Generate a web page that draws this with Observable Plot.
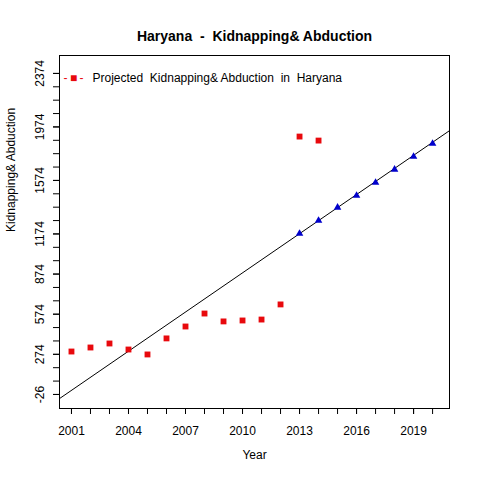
<!DOCTYPE html>
<html><head>
<script src="https://cdn.jsdelivr.net/npm/d3@7"></script>
<script src="https://cdn.jsdelivr.net/npm/@observablehq/plot@0.6"></script>
<style>body{margin:0;background:#fff;font-family:"Liberation Sans",Arial,sans-serif}</style>
</head><body><div id="chart"></div>
<script>
const actualYears = [2001,2002,2003,2004,2005,2006,2007,2008,2009,2010,2011,2012,2013,2014];
const actualValues = [295,325,355,310,273,393,482,579,520,527,534,647,1902,1872];
const projYears = [2013,2014,2015,2016,2017,2018,2019,2020];
const projValues = [1177,1274,1372,1461,1558,1656,1753,1850];
const lineYears = [2000.37,2020.89];
const lineValues = [-57,1946];
const yLabels = [-26,274,574,874,1174,1574,1974,2374];
const yTicks = d3.range(-26,2400,100);
const xTicks = d3.range(2001,2021);
const xLabels = [2001,2004,2007,2010,2013,2016,2019];

const actual = actualYears.map((y,i)=>({year:y,v:actualValues[i]}));
const proj = projYears.map((y,i)=>({year:y,v:projValues[i]}));
const line = lineYears.map((y,i)=>({year:y,v:lineValues[i]}));

const chart = Plot.plot({
  width:480,height:480,marginLeft:59,marginRight:31,marginTop:55,marginBottom:72,
  style:{fontFamily:"Liberation Sans, Arial, sans-serif",fontSize:"12px",color:"#000",background:"#fff"},
  x:{domain:[2000.37,2020.89]},
  y:{domain:[-131,2508]},
  marks:[
    Plot.frame({stroke:"#000"}),
    Plot.line(line,{x:"year",y:"v",stroke:"#000",strokeWidth:1,clip:true}),
    Plot.dot(actual,{x:"year",y:"v",symbol:"square",r:3.3,fill:"#e8090d"}),
    Plot.dot(proj,{x:"year",y:"v",symbol:"triangle",r:2.8,fill:"#0000cc"}),
    Plot.axisX({ticks:xTicks,tickFormat:()=>"",tickSize:6,tickPadding:0,label:null}),
    Plot.axisX({ticks:xLabels,tickFormat:d=>String(d),tickSize:6,tickPadding:12,fontSize:12,label:null}),
    Plot.axisY({ticks:yTicks,tickFormat:()=>"",tickSize:6,label:null}),
    Plot.axisY({ticks:yLabels,tickFormat:d=>String(d),tickSize:6,tickPadding:10,tickRotate:-90,fontSize:12,label:null}),
    Plot.text(["Year"],{frameAnchor:"bottom",dy:50,fontSize:12}),
    Plot.text(["Kidnapping& Abduction"],{frameAnchor:"left",dx:-48,rotate:-90,fontSize:12}),
    Plot.text(["Haryana  -  Kidnapping& Abduction"],{frameAnchor:"top",dy:-24,fontSize:14,fontWeight:"bold"}),
    Plot.text(["-\u2009\u25A0\u2009-"],{frameAnchor:"top-left",dx:4,dy:18,fill:"#e8090d",fontSize:12,textAnchor:"start"}),
    Plot.text(["Projected  Kidnapping& Abduction  in  Haryana"],{frameAnchor:"top-left",dx:33,dy:18,fontSize:12,textAnchor:"start"})
  ]
});
document.getElementById("chart").append(chart);
</script></body></html>
